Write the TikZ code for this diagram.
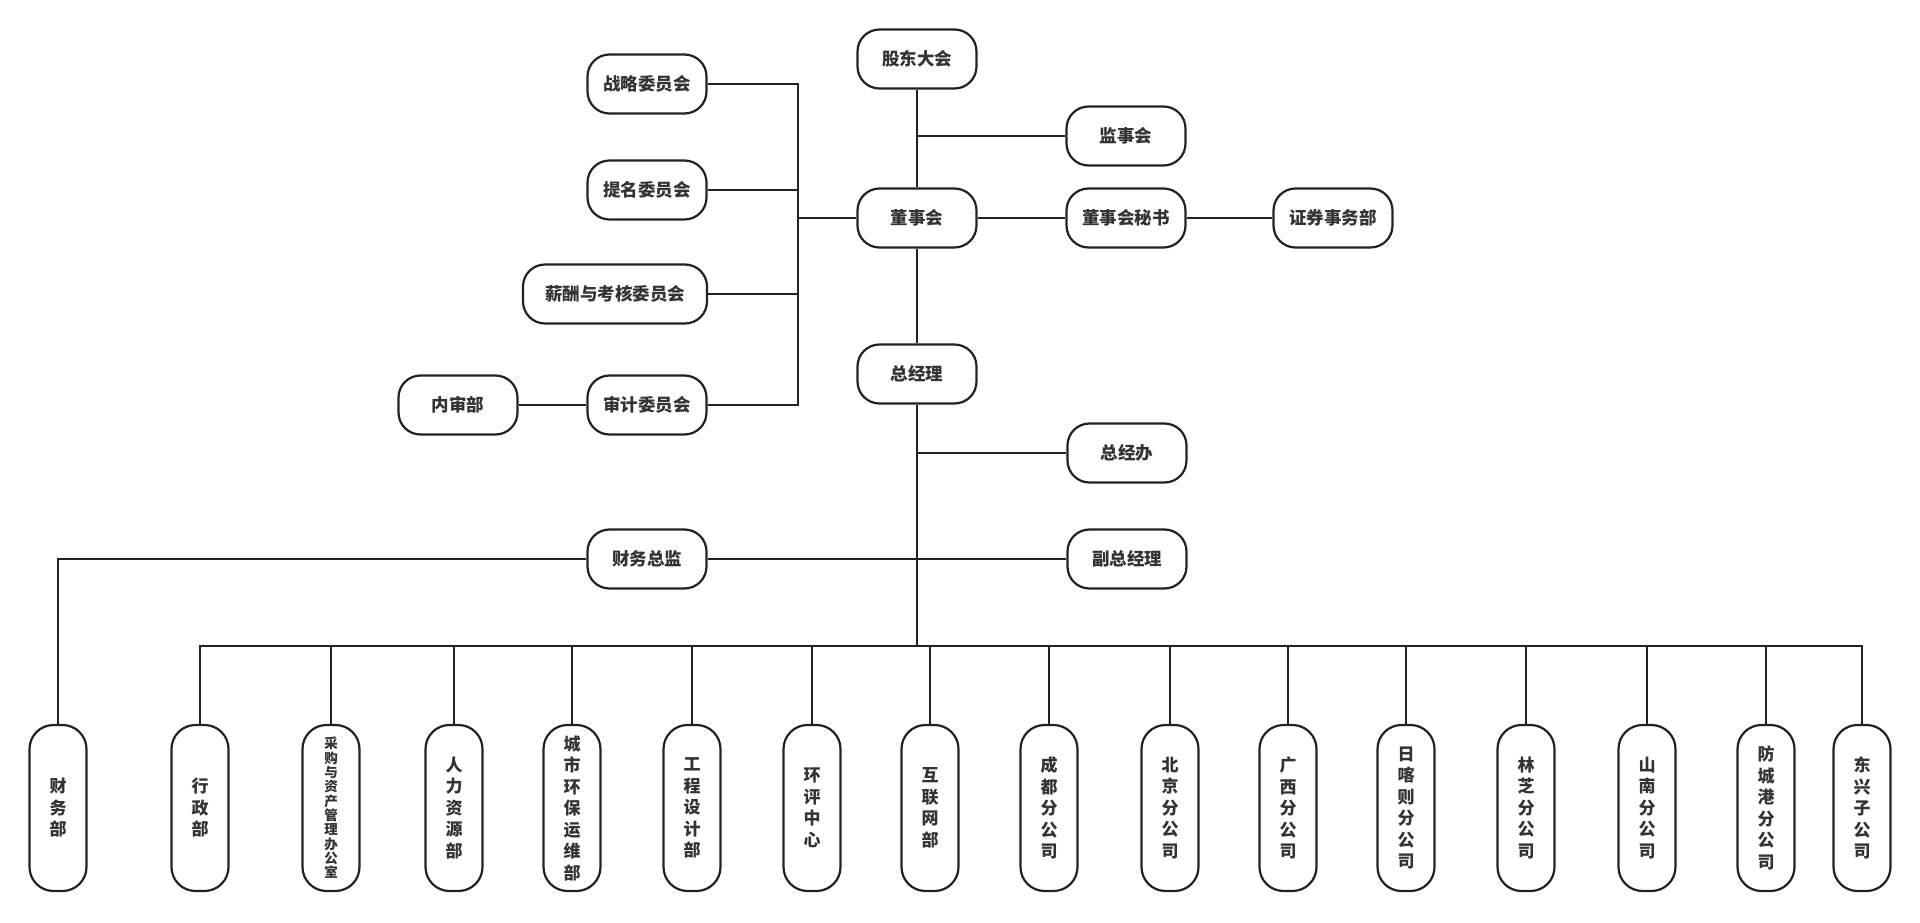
\documentclass[tikz,border=0pt]{standalone}
\usepackage{fontspec}
\setmainfont{Noto Sans CJK SC}
\definecolor{linec}{HTML}{222222}
\definecolor{textc}{HTML}{333333}
\begin{document}
\begin{tikzpicture}[x=1pt,y=-1pt,
  box/.style={draw=linec, line width=2.2pt, rounded corners=22pt, fill=white,
    minimum width=119pt, minimum height=59pt, inner sep=0pt,
    font=\bfseries\fontsize{17.5}{20}\selectfont, text=textc},
  vbox/.style={draw=linec, line width=2.2pt, rounded corners=24pt, fill=white,
    minimum width=57pt, minimum height=166pt, inner sep=0pt, align=center,
    font=\bfseries\fontsize{17}{21.5}\selectfont, text=textc},
  conn/.style={draw=linec, line width=1.8pt}]
\useasboundingbox (0,0) rectangle (1920,923);
\fill[white] (0,0) rectangle (1920,923);

% top level
\node[box] (gd)   at (917,59)  {股东大会};
\node[box] (jsh)  at (1126,136) {监事会};
\node[box] (dsh)  at (917,218) {董事会};
\node[box] (ms)   at (1126,218) {董事会秘书};
\node[box] (zq)   at (1333,218) {证券事务部};
\node[box] (zl)   at (647,84)  {战略委员会};
\node[box] (tm)   at (647,190) {提名委员会};
\node[box, minimum width=184pt] (xc) at (615,294) {薪酬与考核委员会};
\node[box] (sj)   at (647,405) {审计委员会};
\node[box] (ns)   at (458,405) {内审部};
\node[box] (zjl)  at (917,374) {总经理};
\node[box] (zjb)  at (1127,453) {总经办};
\node[box] (cwzj) at (647,559) {财务总监};
\node[box] (fzjl) at (1127,559) {副总经理};

% bottom level
\node[vbox] (cwb) at (58,808)   {财\\务\\部};
\node[vbox] (xz)  at (200,808)  {行\\政\\部};
\node[vbox, font=\bfseries\fontsize{13.5}{14.3}\selectfont] (cg) at (331,808) {采\\购\\与\\资\\产\\管\\理\\办\\公\\室};
\node[vbox] (rl)  at (454,808)  {人\\力\\资\\源\\部};
\node[vbox] (cs)  at (572,808)  {城\\市\\环\\保\\运\\维\\部};
\node[vbox] (gc)  at (692,808)  {工\\程\\设\\计\\部};
\node[vbox] (hp)  at (812,808)  {环\\评\\中\\心};
\node[vbox] (hl)  at (930,808)  {互\\联\\网\\部};
\node[vbox] (cd)  at (1049,808) {成\\都\\分\\公\\司};
\node[vbox] (bj)  at (1170,808) {北\\京\\分\\公\\司};
\node[vbox] (gx)  at (1288,808) {广\\西\\分\\公\\司};
\node[vbox] (rkz) at (1406,808) {日\\喀\\则\\分\\公\\司};
\node[vbox] (lz)  at (1526,808) {林\\芝\\分\\公\\司};
\node[vbox] (sn)  at (1647,808) {山\\南\\分\\公\\司};
\node[vbox] (fcg) at (1766,808) {防\\城\\港\\分\\公\\司};
\node[vbox] (dx)  at (1862,808) {东\\兴\\子\\公\\司};

\coordinate (cb) at (798,218);
\coordinate (bus) at (917,646);

% connectors
\draw[conn] (gd.south) -- (dsh.north);
\draw[conn] (jsh.west) -- (jsh.west -| gd.south);
\draw[conn] (dsh.east) -- (ms.west);
\draw[conn] (ms.east) -- (zq.west);
\draw[conn] (dsh.west) -- (cb);
\draw[conn] (zl.east) -- (zl.east -| cb) -- (sj.east -| cb) -- (sj.east);
\draw[conn] (tm.east) -- (tm.east -| cb);
\draw[conn] (xc.east) -- (xc.east -| cb);
\draw[conn] (ns.east) -- (sj.west);
\draw[conn] (dsh.south) -- (zjl.north);
\draw[conn] (zjl.south) -- (bus);
\draw[conn] (zjb.west) -- (zjb.west -| zjl.south);
\draw[conn] (cwzj.east) -- (fzjl.west);
\draw[conn] (cwzj.west) -| (cwb.north);
\draw[conn] (xz.north) -- (xz.north |- bus) -- (dx.north |- bus) -- (dx.north);
\foreach \n in {cg,rl,cs,gc,hp,hl,cd,bj,gx,rkz,lz,sn,fcg}
  \draw[conn] (\n.north) -- (\n.north |- bus);
\end{tikzpicture}
\end{document}
